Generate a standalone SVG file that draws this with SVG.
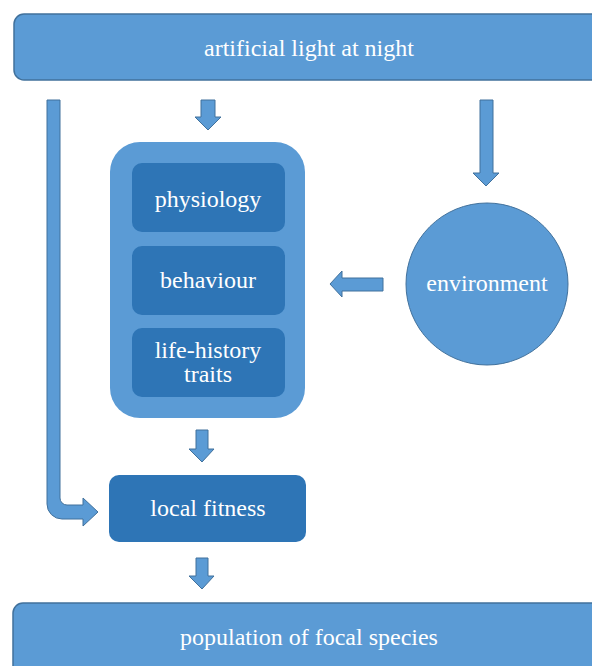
<svg xmlns="http://www.w3.org/2000/svg" width="592" height="666" viewBox="0 0 592 666">
<style>
.band{fill:#5B9BD5;stroke:#41719C;stroke-width:1.5}
.inner{fill:#2E75B6}
.arr{fill:#5B9BD5;stroke:#41719C;stroke-width:1}
text{font-family:"Liberation Serif","Times New Roman",serif;font-size:24px;fill:#fff;text-anchor:middle}
</style>
<rect width="592" height="666" fill="#fff"/>
<g id="light">
<rect class="band" x="14" y="14" width="600" height="66" rx="10"/>
<text x="309" y="56">artificial light at night</text>
</g>
<g id="traits-group">
<rect x="110" y="142" width="195" height="276" rx="30" fill="#5B9BD5"/>
</g>
<g id="physiology">
<rect class="inner" x="132" y="163" width="153" height="69" rx="10"/>
<text x="208" y="207">physiology</text>
</g>
<g id="behaviour">
<rect class="inner" x="132" y="246" width="153" height="69" rx="10"/>
<text x="208" y="288">behaviour</text>
</g>
<g id="life-history">
<rect class="inner" x="132" y="328" width="153" height="69" rx="10"/>
<text x="208" y="358">life-history</text>
<text x="208" y="382">traits</text>
</g>
<g id="environment">
<circle cx="487" cy="284" r="81" fill="#5B9BD5" stroke="#41719C" stroke-width="1"/>
<text x="487" y="291">environment</text>
</g>
<g id="fitness">
<rect class="inner" x="109" y="475" width="197" height="67" rx="10"/>
<text x="208" y="516">local fitness</text>
</g>
<g id="population">
<rect class="band" x="13" y="603" width="600" height="80" rx="10"/>
<text x="309" y="645">population of focal species</text>
</g>
<g id="connectors">
<path class="arr" d="M47,100 H60 V498 A7,7 0 0 0 67,505 H83 V498 L98,512 L83,526 V519 H62 A15,15 0 0 1 47,504 Z"/>
<path class="arr" d="M201,100 H215 V117 H221 L208,130 L195,117 H201 Z"/>
<path class="arr" d="M480,100 H493 V173 H499 L486,186 L473,173 H480 Z"/>
<path class="arr" d="M383,278 V291 H342 V297 L330,284 L342,271 V278 Z"/>
<path class="arr" d="M196,430 H208 V449 H214 L202,462 L189,449 H196 Z"/>
<path class="arr" d="M196,558 H208 V576 H214 L202,589 L189,576 H196 Z"/>
</g>
</svg>
